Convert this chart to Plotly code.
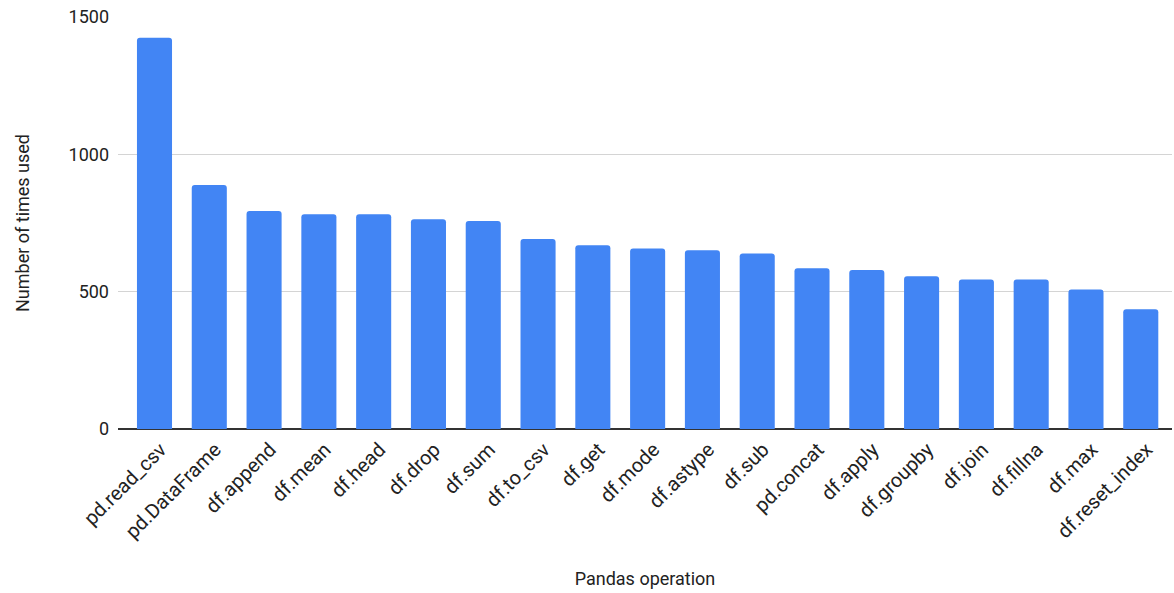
import plotly.graph_objects as go

operations = [
    "pd.read_csv", "pd.DataFrame", "df.append", "df.mean", "df.head", "df.drop",
    "df.sum", "df.to_csv", "df.get", "df.mode", "df.astype", "df.sub",
    "pd.concat", "df.apply", "df.groupby", "df.join", "df.fillna", "df.max",
    "df.reset_index",
]
times_used = [
    1424, 888, 794, 782, 782, 764,
    757, 692, 669, 657, 651, 639,
    585, 579, 556, 544, 544, 508,
    436,
]
y_ticks = [0, 500, 1000, 1500]

FONT = "Roboto"
TEXT = "#222222"

fig = go.Figure(
    go.Bar(
        x=operations,
        y=times_used,
        marker=dict(color="#4285F4", line=dict(width=0), cornerradius=3),
        width=0.64,
    )
)

fig.update_layout(
    width=1174,
    height=593,
    margin=dict(l=118, r=2, t=17, b=164),
    paper_bgcolor="white",
    plot_bgcolor="white",
    showlegend=False,
    font=dict(family=FONT, size=18, color=TEXT),
)

fig.update_xaxes(
    range=[-0.666, 18.57],
    tickangle=-45,
    tickfont=dict(family=FONT, size=20, color=TEXT),
    ticklabelshift=6,
    ticklabelstandoff=4,
    showgrid=False,
    showline=False,
    ticks="",
    title=dict(text="Pandas operation", font=dict(family=FONT, size=18, color=TEXT), standoff=30),
    automargin=False,
)

fig.update_yaxes(
    range=[0, 1500],
    tickvals=y_ticks,
    ticktext=[str(v) for v in y_ticks],
    tickfont=dict(family=FONT, size=18, color=TEXT),
    showgrid=True,
    gridcolor="#d4d4d4",
    gridwidth=1,
    zeroline=True,
    zerolinecolor="#333333",
    zerolinewidth=1.5,
    ticks="",
    ticklabelstandoff=8,
    title=dict(text="Number of times used", font=dict(family=FONT, size=18, color=TEXT), standoff=34),
    automargin=False,
)

fig.write_html("out.html")
